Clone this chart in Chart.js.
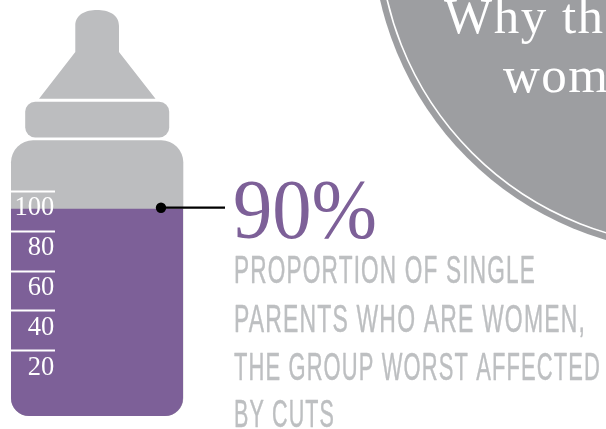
<!DOCTYPE html>
<html>
<head>
<meta charset="utf-8">
<style>html,body{margin:0;padding:0;background:#fff;overflow:hidden}canvas{display:block}</style>
<script src="https://cdn.jsdelivr.net/npm/chart.js@4"></script>
</head>
<body>
<canvas id="c" width="606" height="429" style="width:606px;height:429px"></canvas>
<script>
const categories = ['Single parents who are women'];
const shareValues = [90];
const tickValues = [100, 80, 60, 40, 20];
const headline = '90%';
const captionLines = ['PROPORTION OF SINGLE', 'PARENTS WHO ARE WOMEN,', 'THE GROUP WORST AFFECTED', 'BY CUTS'];
const titleLines = ['Why th', 'wom'];

const PURPLE = '#7d6098', BOTTLE = '#bcbdbf', DISC = '#9d9ea1', CAPTION = '#bdbfc1';
const SERIF = '"Liberation Serif", serif';
const INFLATE = 2.3;
const yMin = -11.35, yMax = 195.5;

function roundRect(ctx, x, y, w, h, r) {
  ctx.beginPath(); ctx.roundRect(x, y, w, h, r); ctx.fill();
}

const artwork = {
  id: 'artwork',
  beforeDatasetsDraw(chart) {
    const ctx = chart.ctx;
    ctx.save();
    // title disc
    ctx.fillStyle = DISC;
    ctx.beginPath(); ctx.arc(697, -72, 325, 0, Math.PI * 2); ctx.fill();
    ctx.strokeStyle = '#fff'; ctx.lineWidth = 1.6;
    ctx.beginPath(); ctx.arc(697, -72, 318, 0, Math.PI * 2); ctx.stroke();
    // bottle
    ctx.fillStyle = BOTTLE;
    ctx.beginPath();
    ctx.moveTo(39, 98.7);
    ctx.lineTo(75.3, 52);
    ctx.lineTo(75.3, 26);
    ctx.bezierCurveTo(75.3, 14, 86, 10, 97, 10);
    ctx.bezierCurveTo(108, 10, 119, 14, 119, 26);
    ctx.lineTo(119, 52);
    ctx.lineTo(155.5, 98.7);
    ctx.closePath(); ctx.fill();
    roundRect(ctx, 25.2, 101.7, 144, 35.8, 10);
    roundRect(ctx, 11, 140.3, 172.3, 275.7, [22, 22, 18, 18]);
    ctx.restore();
  },
  afterDraw(chart) {
    const ctx = chart.ctx;
    const yTop = chart.scales.y.getPixelForValue(shareValues[0]) - INFLATE - 1;
    ctx.save();
    // leader and dot
    ctx.strokeStyle = '#000'; ctx.lineWidth = 2.2;
    ctx.beginPath(); ctx.moveTo(160, yTop); ctx.lineTo(225, yTop); ctx.stroke();
    ctx.fillStyle = '#000';
    ctx.beginPath(); ctx.arc(161, yTop, 5.2, 0, Math.PI * 2); ctx.fill();
    // headline number
    ctx.fillStyle = PURPLE; ctx.textBaseline = 'alphabetic'; ctx.textAlign = 'left';
    ctx.font = '84px ' + SERIF;
    ctx.fillText(headline, 233, 237.5, 144);
    // caption
    ctx.fillStyle = CAPTION; ctx.strokeStyle = CAPTION; ctx.lineWidth = 0.5; ctx.lineJoin = 'round';
    ctx.font = '39px "Liberation Sans Narrow", "Liberation Sans", sans-serif';
    ctx.letterSpacing = '2px';
    const capW = [302, 352, 367, 101], capY = [283, 331.5, 379.5, 427];
    captionLines.forEach((t, i) => {
      ctx.fillText(t, 234, capY[i], capW[i]);
      ctx.strokeText(t, 234, capY[i], capW[i]);
    });
    // title in disc
    ctx.fillStyle = '#fff';
    ctx.font = '51px ' + SERIF;
    ctx.letterSpacing = '1.5px';
    ctx.fillText(titleLines[0], 444, 33);
    ctx.fillText(titleLines[1], 503, 92);
    ctx.restore();
  }
};

new Chart(document.getElementById('c'), {
  type: 'bar',
  data: {
    labels: categories,
    datasets: [{
      data: shareValues,
      base: yMin,
      backgroundColor: PURPLE,
      borderWidth: 0,
      borderSkipped: false,
      borderRadius: { topLeft: 0, topRight: 0, bottomLeft: 18, bottomRight: 18 },
      inflateAmount: INFLATE,
      barPercentage: 0.9733,
      categoryPercentage: 1,
      clip: false
    }]
  },
  plugins: [artwork],
  options: {
    responsive: false,
    animation: false,
    devicePixelRatio: 1,
    layout: { padding: { left: 11, right: 423, top: 0, bottom: 15.3 } },
    plugins: { legend: { display: false }, tooltip: { enabled: false }, title: { display: false } },
    scales: {
      x: { display: false },
      y: {
        min: yMin,
        max: yMax,
        afterBuildTicks(scale) { scale.ticks = tickValues.map(v => ({ value: v })); },
        afterFit(scale) { scale.width = 0; scale.paddingTop = 0; scale.paddingBottom = 0; },
        border: { display: false },
        grid: {
          z: 1,
          drawOnChartArea: false,
          drawTicks: true,
          tickLength: -44,
          tickColor: '#ffffff',
          tickWidth: 2
        },
        ticks: {
          z: 1,
          autoSkip: false,
          mirror: true,
          crossAlign: 'far',
          padding: 3.5,
          labelOffset: 17,
          color: '#ffffff',
          font: { family: 'Liberation Serif', size: 26.5 }
        }
      }
    }
  }
});
</script>
</body>
</html>
